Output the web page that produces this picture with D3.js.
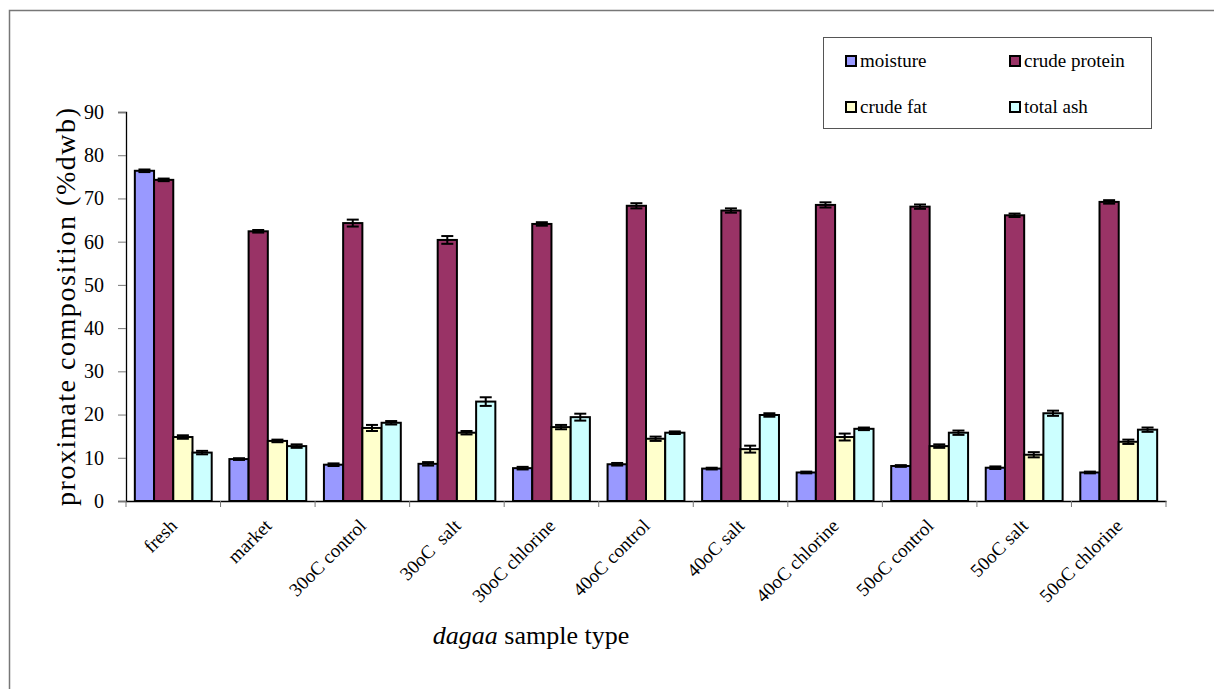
<!DOCTYPE html>
<html>
<head>
<meta charset="utf-8">
<script src="https://cdn.jsdelivr.net/npm/d3@7"></script>
<style>
  body { margin: 0; background: #fff; }
</style>
</head>
<body>
<figure id="bar" style="margin:0"></figure>
<script>
const categories = ["fresh", "market", "30oC control", "30oC  salt", "30oC chlorine", "40oC control",
  "40oC salt", "40oC chlorine", "50oC control", "50oC salt", "50oC chlorine"]
const seriesNames = ["moisture", "crude protein", "crude fat", "total ash"]
const seriesColors = ["#9999ff", "#993366", "#ffffcc", "#ccffff"]

const moisture = [76.4, 9.7, 8.4, 8.6, 7.6, 8.5, 7.5, 6.6, 8.1, 7.7, 6.6]
const crudeProtein = [74.3, 62.4, 64.3, 60.4, 64.1, 68.3, 67.2, 68.5, 68.1, 66.1, 69.2]
const crudeFat = [14.8, 13.9, 16.9, 15.8, 17.1, 14.4, 12.0, 14.8, 12.7, 10.7, 13.7]
const totalAsh = [11.2, 12.7, 18.1, 23.0, 19.4, 15.8, 19.9, 16.7, 15.8, 20.3, 16.5]

const moistureErr = [0.3, 0.2, 0.3, 0.4, 0.3, 0.3, 0.2, 0.2, 0.2, 0.3, 0.2]
const proteinErr = [0.3, 0.3, 0.8, 0.9, 0.4, 0.6, 0.5, 0.6, 0.5, 0.4, 0.4]
const fatErr = [0.4, 0.3, 0.7, 0.4, 0.5, 0.5, 0.8, 0.8, 0.4, 0.6, 0.5]
const ashErr = [0.4, 0.4, 0.4, 1.0, 0.8, 0.3, 0.4, 0.3, 0.5, 0.6, 0.5]

const yTicks = [0, 10, 20, 30, 40, 50, 60, 70, 80, 90]

const values = [moisture, crudeProtein, crudeFat, totalAsh]
const errors = [moistureErr, proteinErr, fatErr, ashErr]

const width = 1214, height = 689
const plotLeft = 126, plotRight = 1166, plotTop = 112, plotBottom = 501
const serif = "'Liberation Serif', 'Times New Roman', serif"

const svg = d3.select('figure#bar')
  .append("svg")
  .attr("width", width)
  .attr("height", height)
  .style("font-family", serif)

// outer frame (only top and left edges show)
svg.append("path")
  .attr("d", "M9.5," + height + "V10.5H" + width)
  .attr("fill", "none")
  .attr("stroke", "#777")
  .attr("stroke-width", 1.5)

const x = d3.scaleBand()
  .domain(categories)
  .range([plotLeft, plotRight])

const xs = d3.scaleBand()
  .domain(seriesNames)
  .range([0, x.bandwidth()])
  .paddingOuter(0.46)

const y = d3.scaleLinear()
  .domain([0, 90])
  .range([plotBottom, plotTop])

// y axis
const yAxis = svg.append("g")
  .attr("transform", "translate(" + plotLeft + ",0)")
  .call(d3.axisLeft(y).tickValues(yTicks).tickSize(8).tickPadding(14))
yAxis.attr("font-family", null).attr("font-size", null)
yAxis.select(".domain").attr("stroke", "#000").attr("stroke-width", 1.3)
yAxis.selectAll(".tick line").attr("stroke", "#777")
yAxis.selectAll("text").style("font-size", "20px").style("font-family", serif).attr("fill", "#000")

// x axis
const xAxis = svg.append("g")
  .attr("transform", "translate(0," + plotBottom + ")")
  .call(d3.axisBottom(x).tickSize(0).tickFormat(""))
xAxis.select(".domain").attr("stroke", "#000").attr("stroke-width", 1.3)

svg.append("g")
  .selectAll("line")
  .data(d3.range(categories.length + 1))
  .enter()
  .append("line")
  .attr("x1", i => plotLeft + i * x.step())
  .attr("x2", i => plotLeft + i * x.step())
  .attr("y1", plotBottom)
  .attr("y2", plotBottom + 6)
  .attr("stroke", "#777")

svg.append("g")
  .selectAll("text")
  .data(categories)
  .enter()
  .append("text")
  .attr("transform", d => "translate(" + (x(d) + x.bandwidth() / 2 + 5) + "," + (plotBottom + 26) + ") rotate(-45)")
  .attr("text-anchor", "end")
  .style("font-size", "19px")
  .style("white-space", "pre")
  .text(d => d)

// bars
const groups = svg.append("g")
  .selectAll("g")
  .data(seriesNames)
  .enter()
  .append("g")

groups.each(function (name, s) {
  const g = d3.select(this)
  g.selectAll("rect")
    .data(categories)
    .enter()
    .append("rect")
    .attr("x", d => x(d) + xs(name))
    .attr("y", (d, i) => y(values[s][i]))
    .attr("width", xs.bandwidth())
    .attr("height", (d, i) => plotBottom - y(values[s][i]))
    .attr("fill", seriesColors[s])
    .attr("stroke", "#000")
    .attr("stroke-width", 2)

  const err = g.selectAll("g.err")
    .data(categories)
    .enter()
    .append("g")
    .attr("class", "err")
    .attr("stroke", "#000")
    .attr("stroke-width", 2)

  const cx = d => x(d) + xs(name) + xs.bandwidth() / 2
  err.append("line")
    .attr("x1", cx).attr("x2", cx)
    .attr("y1", (d, i) => y(values[s][i] + errors[s][i]))
    .attr("y2", (d, i) => y(values[s][i] - errors[s][i]))
  err.append("line")
    .attr("x1", d => cx(d) - 6).attr("x2", d => cx(d) + 6)
    .attr("y1", (d, i) => y(values[s][i] + errors[s][i]))
    .attr("y2", (d, i) => y(values[s][i] + errors[s][i]))
  err.append("line")
    .attr("x1", d => cx(d) - 6).attr("x2", d => cx(d) + 6)
    .attr("y1", (d, i) => y(values[s][i] - errors[s][i]))
    .attr("y2", (d, i) => y(values[s][i] - errors[s][i]))
})

// axis titles
svg.append("text")
  .attr("transform", "translate(75,307) rotate(-90)")
  .attr("text-anchor", "middle")
  .attr("textLength", 398)
  .attr("lengthAdjust", "spacing")
  .style("font-size", "28px")
  .text("proximate composition (%dwb)")

const xTitle = svg.append("text")
  .attr("x", 531)
  .attr("y", 644)
  .attr("text-anchor", "middle")
  .style("font-size", "26px")
xTitle.append("tspan").style("font-style", "italic").text("dagaa")
xTitle.append("tspan").text(" sample type")

// legend
svg.append("rect")
  .attr("x", 823.5).attr("y", 37.5)
  .attr("width", 328).attr("height", 91)
  .attr("fill", "#fff")
  .attr("stroke", "#555")

const legendPos = [[846, 61], [1010, 61], [846, 107], [1010, 107]]
seriesNames.forEach((name, s) => {
  const item = svg.append("g")
    .attr("transform", "translate(" + legendPos[s][0] + "," + legendPos[s][1] + ")")
  item.append("rect")
    .attr("x", 0).attr("y", -5)
    .attr("width", 10).attr("height", 10)
    .attr("fill", seriesColors[s])
    .attr("stroke", "#000")
    .attr("stroke-width", 2)
  item.append("text")
    .attr("x", 14).attr("dy", "0.33em")
    .style("font-size", "19px")
    .text(name)
})
</script>
</body>
</html>
